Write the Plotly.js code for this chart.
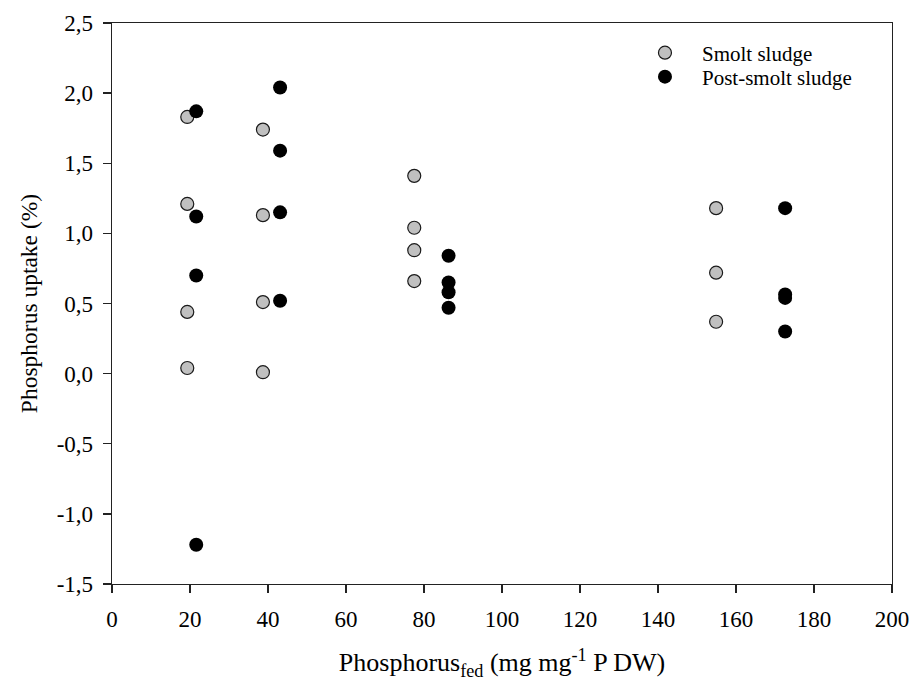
<!DOCTYPE html>
<html>
<head>
<meta charset="utf-8">
<script src="https://cdn.plot.ly/plotly-3.0.1.min.js"></script>
<style>html,body{margin:0;padding:0;background:#fff;}#chart{width:909px;height:682px;}</style>
</head>
<body>
<div id="chart"></div>
<script>
// Smolt sludge
const smoltX = [19.3, 19.3, 19.3, 19.3, 38.7, 38.7, 38.7, 38.7, 77.5, 77.5, 77.5, 77.5, 154.9, 154.9, 154.9];
const smoltY = [1.83, 1.21, 0.44, 0.04, 1.74, 1.13, 0.51, 0.01, 1.41, 1.04, 0.88, 0.66, 1.18, 0.72, 0.37];
// Post-smolt sludge
const postX = [21.6, 21.6, 21.6, 21.6, 43.1, 43.1, 43.1, 43.1, 86.3, 86.3, 86.3, 86.3, 172.6, 172.6, 172.6, 172.6];
const postY = [1.87, 1.12, 0.70, -1.22, 2.04, 1.59, 1.15, 0.52, 0.84, 0.65, 0.58, 0.47, 1.18, 0.565, 0.54, 0.30];
// Axis ticks
const xTicks = [0, 20, 40, 60, 80, 100, 120, 140, 160, 180, 200];
const yTicks = [-1.5, -1.0, -0.5, 0.0, 0.5, 1.0, 1.5, 2.0, 2.5];
const yTickText = ["-1,5", "-1,0", "-0,5", "0,0", "0,5", "1,0", "1,5", "2,0", "2,5"];

const font = "Liberation Serif, Times New Roman, serif";

const traces = [
  {
    x: smoltX, y: smoltY, type: "scatter", mode: "markers", name: "Smolt sludge", legend: "legend",
    marker: {size: 13, color: "#c0c0c0", line: {color: "#1a1a1a", width: 1.2}}
  },
  {
    x: postX, y: postY, type: "scatter", mode: "markers", name: "Post-smolt sludge", legend: "legend2",
    marker: {size: 14, color: "#000000", line: {color: "#000000", width: 0}}
  }
];

const legendBase = {xanchor: "left", yanchor: "middle", bgcolor: "rgba(0,0,0,0)",
  font: {family: font, size: 21, color: "#000"}, itemwidth: 64};

const layout = {
  width: 909, height: 682,
  margin: {l: 112, r: 17, t: 23, b: 98},
  paper_bgcolor: "#ffffff", plot_bgcolor: "#ffffff",
  font: {family: font, size: 21, color: "#000"},
  showlegend: true,
  legend: Object.assign({x: 0.6615, y: 0.9465}, legendBase),
  legend2: Object.assign({x: 0.6615, y: 0.9037}, legendBase),
  xaxis: {
    range: [0, 200], tickvals: xTicks, ticktext: xTicks.map(String),
    showgrid: false, zeroline: false, showline: true, linecolor: "#222", linewidth: 1.3,
    mirror: true, ticks: "outside", ticklen: 8, tickcolor: "#222", tickwidth: 1.3,
    ticklabelstandoff: 6, ticklabeloverflow: "allow",
    tickfont: {family: font, size: 23, color: "#000"},
    title: {text: "Phosphorus<sub>fed</sub> (mg mg<sup>-1</sup> P DW)", font: {family: font, size: 26, color: "#000"}, standoff: 22}
  },
  yaxis: {
    range: [-1.5, 2.5], tickvals: yTicks, ticktext: yTickText,
    showgrid: false, zeroline: false, showline: true, linecolor: "#222", linewidth: 1.3,
    mirror: true, ticks: "outside", ticklen: 8, tickcolor: "#222", tickwidth: 1.3,
    ticklabelstandoff: 5, ticklabeloverflow: "allow",
    tickfont: {family: font, size: 23, color: "#000"},
    title: {text: "Phosphorus uptake (%)", font: {family: font, size: 23.5, color: "#000"}, standoff: 12}
  }
};

Plotly.newPlot("chart", traces, layout, {displayModeBar: false, staticPlot: true});
</script>
</body>
</html>
